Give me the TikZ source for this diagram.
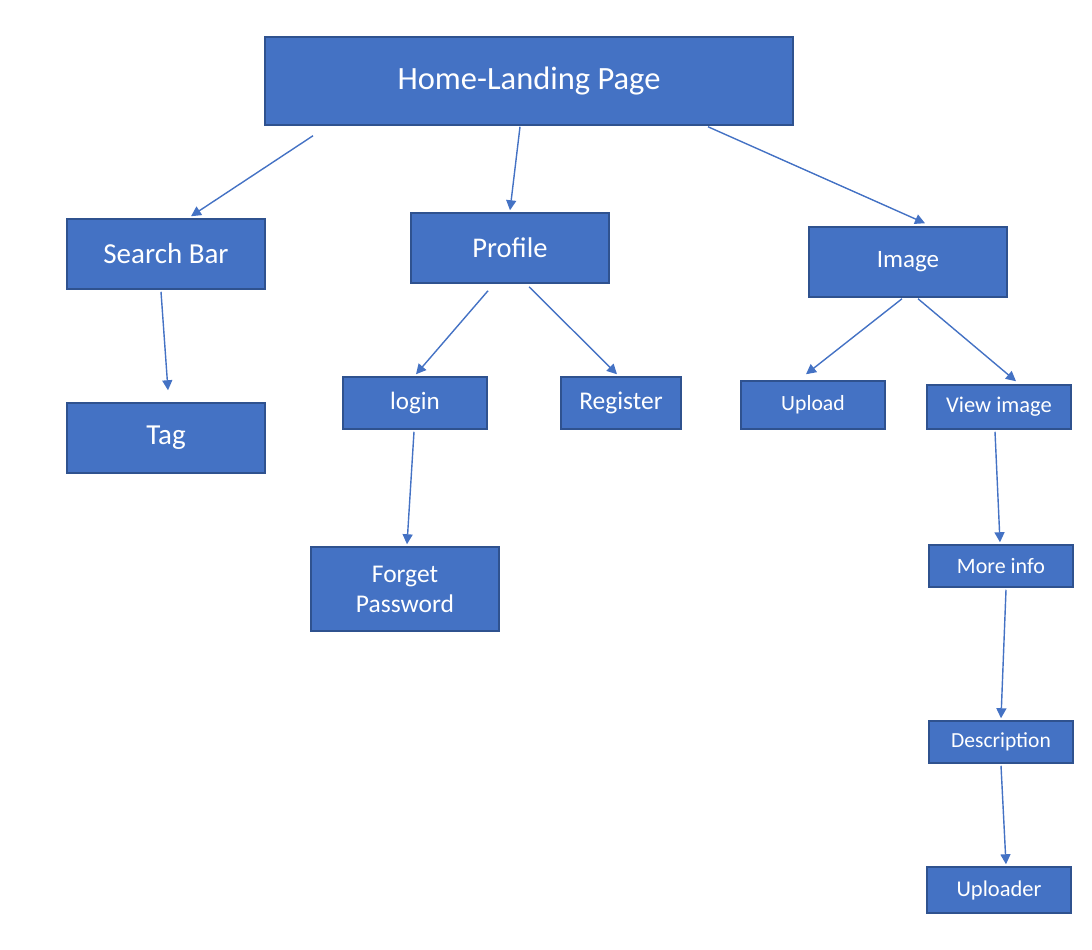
\documentclass[tikz,border=0pt]{standalone}
\usepackage{fontspec}
\setmainfont{Carlito}
\usetikzlibrary{arrows.meta}
\definecolor{boxblue}{HTML}{4472C4}
\definecolor{boxedge}{HTML}{2F528F}
\begin{document}
\begin{tikzpicture}[x=1pt, y=-1pt,
  page/.style={draw=boxedge, line width=1.5pt, fill=boxblue, text=white, inner sep=0pt, align=center},
  link/.style={draw=boxblue, line width=1.4pt, -{Triangle[length=10pt, width=10pt]}}]
\useasboundingbox (0,0) rectangle (1092,950);
\node[page, minimum width=528, minimum height=88, font=\fontsize{32.5}{38}\selectfont] (home) at (529,81){Home-Landing Page};
\node[page, minimum width=198, minimum height=70, font=\fontsize{29}{34}\selectfont] (search) at (166,254){Search Bar};
\node[page, minimum width=198, minimum height=70, font=\fontsize{28.5}{34}\selectfont] (profile) at (510,248){Profile};
\node[page, minimum width=198, minimum height=70, font=\fontsize{25}{30}\selectfont] (image) at (908,262){Image};
\node[page, minimum width=198, minimum height=70, font=\fontsize{29}{34}\selectfont] (tag) at (166,438){Tag};
\node[page, minimum width=144, minimum height=52, font=\fontsize{25}{30}\selectfont] (login) at (415,403){login};
\node[page, minimum width=120, minimum height=52, font=\fontsize{25.5}{30}\selectfont] (register) at (621,403){Register};
\node[page, minimum width=144, minimum height=48, font=\fontsize{21.7}{26}\selectfont] (upload) at (813,405){Upload};
\node[page, minimum width=144, minimum height=44, font=\fontsize{22.5}{26}\selectfont] (view) at (999,407){View image};
\node[page, minimum width=188, minimum height=84, font=\fontsize{25.5}{30}\selectfont] (forget) at (405,589){Forget\\Password};
\node[page, minimum width=144, minimum height=42, font=\fontsize{22}{26}\selectfont] (more) at (1001,566){More info};
\node[page, minimum width=144, minimum height=42, font=\fontsize{21.5}{26}\selectfont] (descr) at (1001,742){Description};
\node[page, minimum width=144, minimum height=46, font=\fontsize{22.5}{26}\selectfont] (uploader) at (999,890){Uploader};
\draw[link] ([xshift=-216pt, yshift=-10pt]home.south) -- ([xshift=25pt, yshift=2pt]search.north);
\draw[link] ([xshift=-9pt, yshift=-1pt]home.south) -- ([yshift=2pt]profile.north);
\draw[link] ([xshift=179pt, yshift=-1pt]home.south) -- ([xshift=17pt, yshift=3pt]image.north);
\draw[link] ([xshift=-5pt, yshift=-2pt]search.south) -- ([xshift=2pt, yshift=12pt]tag.north);
\draw[link] ([xshift=-22pt, yshift=-7pt]profile.south) -- ([xshift=1pt, yshift=2pt]login.north);
\draw[link] ([xshift=19pt, yshift=-3pt]profile.south) -- ([xshift=-4pt, yshift=2pt]register.north);
\draw[link] ([xshift=-6pt, yshift=-1pt]image.south) -- ([xshift=-7pt, yshift=6pt]upload.north);
\draw[link] ([xshift=10pt, yshift=-1pt]image.south) -- ([xshift=17pt, yshift=3pt]view.north);
\draw[link] ([xshift=-1pt, yshift=-2pt]login.south) -- ([xshift=2pt, yshift=2pt]forget.north);
\draw[link] ([xshift=-4pt, yshift=-2pt]view.south) -- ([xshift=-1pt, yshift=2pt]more.north);
\draw[link] ([xshift=5pt, yshift=-2pt]more.south) -- ([yshift=2pt]descr.north);
\draw[link] ([yshift=-2pt]descr.south) -- ([xshift=7pt, yshift=2pt]uploader.north);
\end{tikzpicture}
\end{document}
